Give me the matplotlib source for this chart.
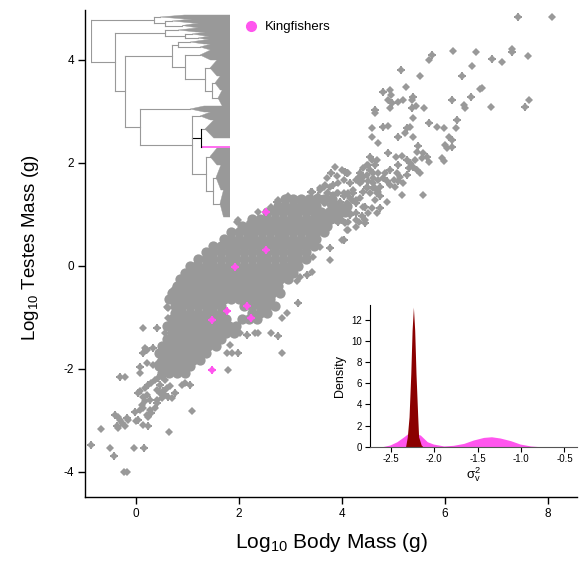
import matplotlib.pyplot as plt
from matplotlib.patches import Polygon
from matplotlib.lines import Line2D

plt.rcParams['font.family'] = ['Liberation Sans', 'DejaVu Sans']
plt.rcParams['mathtext.default'] = 'regular'
plt.rcParams['axes.unicode_minus'] = False

GREY = '#999999'
PINK = '#FF55EE'
DARK_RED = '#8B0000'

# ── Data ──────────────────────────────────────────────────────────────────────

# scattered species outside the dense core: (log10 body mass, log10 testes mass)
sparse_pts = [
    (7.42, 4.84), (8.07, 4.84), (7.30, 4.22), (7.30, 4.16), (7.60, 4.08), (7.10, 3.96),
    (6.91, 4.02), (6.60, 4.16), (6.16, 4.18), (5.74, 4.10), (5.69, 4.00), (6.52, 3.89),
    (6.32, 3.69), (6.71, 3.46), (6.68, 3.44), (5.15, 3.81), (5.51, 3.68), (5.24, 3.48),
    (4.80, 3.38), (4.93, 3.42), (4.95, 3.32), (5.38, 3.29), (5.35, 3.23), (4.90, 3.22),
    (4.97, 3.16), (5.09, 3.19), (5.19, 3.22), (4.64, 3.03), (4.64, 2.97), (4.93, 3.06),
    (5.35, 3.06), (5.43, 3.11), (5.60, 3.06), (6.13, 3.22), (6.36, 3.13), (6.38, 3.06),
    (6.50, 3.29), (6.89, 3.08), (7.62, 3.22), (7.55, 3.09),
    (4.58, 2.67), (4.58, 2.51), (4.80, 2.70), (4.90, 2.72), (4.69, 2.39), (5.26, 2.67),
    (5.32, 2.69), (5.37, 2.87), (5.09, 2.51), (5.22, 2.58), (5.38, 2.51), (5.69, 2.78),
    (5.84, 2.70), (5.97, 2.67), (6.23, 2.83), (6.21, 2.67), (6.08, 2.51), (6.13, 2.45),
    (6.00, 2.35), (6.03, 2.29), (6.13, 2.31), (5.94, 2.09), (5.97, 2.03), (5.48, 2.32),
    (5.45, 2.22), (5.58, 2.19), (5.64, 2.12), (5.68, 2.01), (5.55, 2.09), (4.90, 2.20),
    (5.05, 2.12), (5.16, 2.14), (4.54, 2.12), (4.58, 2.06), (4.67, 2.06), (5.26, 2.06),
    (5.32, 1.99), (5.42, 2.06), (5.38, 1.93), (5.45, 1.86), (5.51, 1.80), (5.29, 1.90),
    (5.58, 1.38), (5.16, 1.38),
    (5.09, 1.96), (5.06, 1.80), (5.00, 1.67), (5.09, 1.64), (5.03, 1.54), (4.93, 1.57),
    (4.87, 1.64), (4.80, 1.70), (4.83, 1.80), (4.93, 1.86), (5.13, 1.73), (5.19, 1.61),
    (5.26, 1.77), (4.87, 1.25), (4.70, 1.44), (4.74, 1.35), (4.64, 1.28), (4.67, 1.02),
    (4.74, 1.12),
    (4.51, 1.96), (4.41, 1.90), (4.54, 1.86), (4.61, 1.80), (4.48, 1.77), (4.35, 1.80),
    (4.28, 1.67), (4.38, 1.64), (4.51, 1.64), (4.61, 1.61), (4.70, 1.67), (4.74, 1.54),
    (4.64, 1.51), (4.48, 1.51), (4.41, 1.44), (4.54, 1.41),
    (3.86, 1.93), (3.79, 1.80), (3.90, 1.74), (4.00, 1.86), (4.09, 1.80), (4.03, 1.67),
    (3.93, 1.61), (3.83, 1.57), (3.77, 1.54), (3.70, 1.70), (4.16, 1.61), (4.22, 1.48),
    (4.12, 1.41), (4.03, 1.35), (3.93, 1.41), (3.83, 1.38),
    (3.41, 1.44), (3.57, 1.51), (3.67, 1.57), (3.54, 1.35), (3.70, 1.41), (3.83, 1.28),
    (3.96, 1.25), (4.09, 1.22), (4.19, 1.28), (4.28, 1.22), (4.35, 1.31), (4.41, 1.15),
    (4.28, 1.02), (4.16, 1.02), (4.03, 1.09), (3.90, 1.12), (3.77, 1.18), (3.64, 1.22),
    (3.51, 1.15), (3.38, 1.22), (3.44, 1.02), (3.61, 0.99), (3.73, 1.02), (3.86, 0.96),
    (3.99, 0.89), (4.12, 0.86), (4.28, 0.89), (4.38, 0.96), (4.51, 1.02), (4.58, 1.12),
    (3.77, 0.83), (3.64, 0.76), (3.51, 0.83), (3.38, 0.89), (4.09, 0.70), (3.99, 0.50),
    (3.77, 0.34), (3.57, 0.37), (3.44, 0.18), (3.18, 0.25), (3.05, 0.12), (2.93, -0.01),
    (3.35, 0.54), (3.18, 0.50), (4.28, 0.76), (4.45, 0.83), (2.96, 1.35), (3.15, 1.28),
    (4.06, 1.83), (4.12, 1.80), (4.48, 1.96), (4.64, 1.96), (4.70, 1.80), (4.61, 1.70),
    (4.41, 1.73), (4.32, 1.73), (4.35, 1.61), (4.48, 1.54), (4.61, 1.51), (4.67, 1.41),
    (3.39, 1.44), (3.57, 1.48), (3.64, 1.54), (3.73, 1.41), (3.90, 1.41), (4.03, 1.41),
    (4.22, 1.41), (4.16, 1.31), (4.28, 1.28), (4.45, 1.15), (4.45, 0.89), (4.32, 0.86),
    (4.16, 0.99), (4.06, 1.02), (3.96, 0.96), (3.86, 1.09), (3.67, 1.22), (3.54, 1.25),
    (3.31, 1.22), (3.18, 1.25), (2.76, 1.28), (2.60, 1.05), (2.76, 1.09), (2.86, 1.05),
    (3.05, 1.09), (3.18, 1.05), (3.35, 1.12), (3.51, 1.02), (3.67, 0.99), (3.80, 0.93),
    (3.93, 0.86), (4.06, 0.83), (4.12, 0.70), (4.03, 0.50), (3.77, 0.12), (3.41, -0.11),
    (3.31, -0.17), (3.18, -0.21), (3.12, -0.30), (3.15, -0.72), (2.93, -0.92), (2.83, -1.02),
    (-0.87, -3.48), (-0.67, -3.17), (-0.50, -3.53), (-0.43, -3.70), (-0.23, -4.01),
    (-0.18, -4.01), (-0.31, -2.15), (-0.21, -2.15), (-0.03, -3.53), (0.16, -3.53),
    (0.64, -3.22), (1.08, -2.81), (-0.41, -2.89), (-0.34, -2.94), (-0.31, -3.00),
    (-0.37, -3.12), (-0.34, -3.15), (-0.21, -3.12), (-0.18, -2.96), (-0.15, -3.00),
    (-0.28, -3.05), (-0.02, -2.83), (0.08, -2.80), (0.14, -2.76), (0.04, -2.99),
    (0.01, -3.02), (0.14, -3.09), (0.24, -3.12), (0.21, -2.89), (0.24, -2.94),
    (0.30, -2.86), (0.27, -2.80), (0.37, -2.76), (0.40, -2.67),
    (0.11, -2.70), (0.17, -2.63), (0.27, -2.60), (0.21, -2.50), (0.14, -2.54), (0.04, -2.47),
    (0.08, -2.44), (0.17, -2.37), (0.24, -2.31), (0.30, -2.28), (0.37, -2.21), (0.43, -2.18),
    (0.50, -2.15), (0.56, -2.21), (0.47, -2.31), (0.40, -2.41), (0.47, -2.47), (0.53, -2.44),
    (0.60, -2.37), (0.66, -2.34), (0.63, -2.54), (0.50, -2.57), (0.56, -2.50), (0.76, -2.47),
    (0.69, -2.57), (0.40, -2.60),
    (0.08, -1.96), (0.08, -2.08), (0.21, -1.89), (0.14, -1.70), (0.21, -1.63), (0.34, -1.92),
    (0.40, -1.92), (0.43, -1.89), (0.95, -2.28), (1.05, -2.31), (0.89, -2.31),
    (0.14, -1.21), (0.40, -1.21), (0.56, -1.31), (0.17, -1.60), (0.34, -1.60), (0.63, -0.82),
    (0.72, -0.47), (0.82, -0.37), (0.92, -0.30), (1.15, 0.02), (1.24, 0.12), (1.34, 0.15),
    (1.70, 0.47), (1.76, 0.41), (1.96, 0.86), (2.21, 0.86), (2.31, 0.80), (1.76, -1.70),
    (1.86, -1.70), (1.99, -1.70), (1.83, -1.53), (2.02, -1.31), (2.15, -1.34), (2.31, -1.31),
    (1.79, -2.02), (1.57, -1.40), (2.37, -1.31), (2.63, -1.31), (2.76, -1.37), (2.83, -1.70),
    (2.36, 1.05), (2.73, 1.25), (2.63, 1.15), (1.99, 0.89), (2.25, 0.83), (0.60, -0.79),
    (0.63, -1.02),
]

# dense core of the cloud, one row of body masses per testes-mass level
core_rows = [
    (1.30, [2.90, 3.05, 3.20, 3.35, 3.50, 3.65, 3.80]),
    (1.17, [2.75, 2.90, 3.05, 3.20, 3.35, 3.50, 3.80, 3.95, 4.10]),
    (1.04, [2.55, 2.70, 2.85, 3.00, 3.15, 3.30, 3.45, 3.60, 3.75, 3.90, 4.05]),
    (0.91, [2.25, 2.40, 2.55, 2.70, 2.85, 3.00, 3.15, 3.30, 3.45, 3.60, 3.75, 3.90]),
    (0.78, [2.05, 2.20, 2.35, 2.50, 2.65, 2.80, 2.95, 3.10, 3.25, 3.40, 3.55, 3.70]),
    (0.65, [1.85, 2.00, 2.15, 2.30, 2.45, 2.60, 2.75, 2.90, 3.05, 3.20, 3.35, 3.50, 3.65]),
    (0.52, [1.70, 1.85, 2.00, 2.15, 2.30, 2.45, 2.60, 2.75, 2.90, 3.05, 3.20, 3.35, 3.50]),
    (0.39, [1.50, 1.65, 1.80, 1.95, 2.10, 2.25, 2.40, 2.55, 2.70, 2.85, 3.00, 3.15, 3.30, 3.45]),
    (0.26, [1.35, 1.50, 1.65, 1.80, 1.95, 2.10, 2.25, 2.40, 2.55, 2.70, 2.85, 3.00, 3.15, 3.30]),
    (0.13, [1.20, 1.35, 1.50, 1.65, 1.80, 1.95, 2.10, 2.25, 2.40, 2.55, 2.70, 2.85, 3.00, 3.15, 3.30]),
    (0.00, [1.05, 1.20, 1.35, 1.50, 1.65, 1.80, 1.95, 2.10, 2.25, 2.40, 2.55, 2.70, 2.85, 3.00, 3.15]),
    (-0.13, [0.95, 1.10, 1.25, 1.40, 1.55, 1.70, 1.85, 2.00, 2.15, 2.30, 2.45, 2.60, 2.75, 2.90, 3.05]),
    (-0.26, [0.85, 1.00, 1.15, 1.30, 1.45, 1.60, 1.75, 1.90, 2.05, 2.20, 2.35, 2.50, 2.65, 2.80, 2.95]),
    (-0.39, [0.80, 0.95, 1.10, 1.25, 1.40, 1.55, 1.70, 1.85, 2.00, 2.15, 2.30, 2.45, 2.60, 2.75]),
    (-0.52, [0.70, 0.85, 1.00, 1.15, 1.30, 1.45, 1.60, 1.75, 1.90, 2.05, 2.20, 2.35, 2.50, 2.65, 2.80]),
    (-0.65, [0.65, 0.80, 0.95, 1.10, 1.25, 1.40, 1.55, 1.70, 1.85, 2.00, 2.15, 2.30, 2.45, 2.60]),
    (-0.78, [0.75, 0.90, 1.05, 1.20, 1.35, 1.50, 1.65, 2.10, 2.25, 2.40, 2.55, 2.70]),
    (-0.91, [0.75, 0.90, 1.05, 1.20, 1.35, 1.50, 1.65, 2.25, 2.40, 2.55]),
    (-1.04, [0.70, 0.85, 1.00, 1.15, 1.30, 1.45, 1.60, 1.75, 2.05, 2.20, 2.35]),
    (-1.17, [0.60, 0.75, 0.90, 1.05, 1.20, 1.35, 1.50, 1.65, 1.80, 1.95]),
    (-1.30, [0.70, 0.85, 1.00, 1.15, 1.30, 1.45, 1.60, 1.75, 1.90]),
    (-1.43, [0.60, 0.75, 0.90, 1.05, 1.20, 1.35, 1.50, 1.65]),
    (-1.56, [0.50, 0.65, 0.80, 0.95, 1.10, 1.25, 1.40, 1.55]),
    (-1.69, [0.45, 0.60, 0.75, 0.90, 1.05, 1.20, 1.35]),
    (-1.82, [0.50, 0.65, 0.80, 0.95, 1.10, 1.25]),
    (-1.95, [0.45, 0.60, 0.75, 0.90, 1.05]),
    (-2.08, [0.50, 0.65, 0.80, 0.95]),
]

kingfisher_body = [2.52, 2.52, 1.92, 2.16, 1.77, 2.23, 1.48, 1.48]
kingfisher_testes = [1.05, 0.31, -0.02, -0.78, -0.87, -1.01, -1.05, -2.02]

# inset densities of sigma^2_v
prior_x = [-2.60, -2.51, -2.43, -2.35, -2.30, -2.24, -2.16, -2.08, -2.01, -1.89, -1.78,
           -1.66, -1.55, -1.43, -1.34, -1.24, -1.12, -1.01, -0.89, -0.78]
prior_y = [0.00, 0.16, 0.47, 0.94, 1.26, 1.32, 1.10, 0.47, 0.25, 0.07, 0.13,
           0.31, 0.63, 0.88, 0.94, 0.82, 0.57, 0.25, 0.07, 0.00]
post_x = [-2.33, -2.31, -2.29, -2.27, -2.255, -2.24, -2.225, -2.21, -2.19, -2.18, -2.15, -2.13]
post_y = [0.00, 0.94, 2.83, 6.90, 11.0, 13.2, 11.0, 6.90, 2.83, 0.94, 0.16, 0.00]

# phylogeny: ('node', depth, children[, colour]) / ('clade', crown depth, first tip, last tip[, colour])
TIP_X = 230
TREE = ('node', 90.7, [
    ('node', 154, [
        ('clade', 160, 15, 19),
        ('node', 165, [('clade', 172, 19, 23), ('clade', 182, 23, 28)]),
    ]),
    ('node', 115, [
        ('node', 165, [
            ('clade', 178, 28, 32),
            ('node', 185, [('clade', 192, 32, 36), ('clade', 198, 36, 40)]),
        ]),
        ('node', 125, [
            ('node', 172, [
                ('node', 178, [('clade', 190, 40, 44), ('clade', 200, 44, 50)]),
                ('node', 185, [
                    ('clade', 200, 50, 60),
                    ('node', 205, [
                        ('clade', 210, 60, 76),
                        ('node', 212, [('clade', 215, 76, 90), ('clade', 218, 90, 106)]),
                    ]),
                ]),
            ]),
            ('node', 140, [
                ('clade', 190, 106, 112),
                ('node', 192, [
                    ('clade', 200, 112, 120),
                    ('node', 200.7, [('clade', 205, 120, 138), ('clade', 202, 145.5, 147.5, PINK)], 'black'),
                    ('node', 206, [
                        ('clade', 210, 148, 165),
                        ('node', 213, [('clade', 216, 165, 190), ('clade', 220, 190, 217)]),
                    ]),
                ]),
            ]),
        ]),
    ]),
])


# ── Helpers ───────────────────────────────────────────────────────────────────

def draw_tree(ax, node, parent_x=None):
    """Draw a rectangular cladogram, returns the y of the node."""
    if node[0] == 'clade':
        crown, y0, y1 = node[1:4]
        col = node[4] if len(node) > 4 else GREY
        ym = (y0 + y1) / 2
        if parent_x is not None:
            ax.plot([parent_x, crown], [ym, ym], color=col, lw=0.8)
        if y1 - y0 < 4:
            ax.plot([crown, TIP_X], [ym, ym], color=col, lw=1.2)
        else:
            mid = crown + (TIP_X - crown) * 0.35
            ax.add_patch(Polygon([(crown, ym), (mid, y0), (TIP_X, y0), (TIP_X, y1), (mid, y1)],
                                 closed=True, fc=col, ec=col, lw=0.3))
        return ym
    x, children = node[1], node[2]
    col = node[3] if len(node) > 3 else GREY
    ys = [draw_tree(ax, c, x) for c in children]
    ax.plot([x, x], [min(ys), max(ys)], color=col, lw=0.8)
    ym = (ys[0] + ys[-1]) / 2
    if parent_x is not None:
        ax.plot([parent_x, x], [ym, ym], color=col, lw=0.8)
    return ym


# ── Figure ────────────────────────────────────────────────────────────────────

fig = plt.figure(figsize=(5.86, 5.61), dpi=100)
ax = fig.add_axes([0.145, 0.1141, 0.8396, 0.868])

sx = [p[0] for p in sparse_pts]
sy = [p[1] for p in sparse_pts]
cx, cy = [], []
for yv, xs in core_rows:
    cx += xs
    cy += [yv] * len(xs)

ax.plot(cx, cy, 'o', color=GREY, ms=7.4, mew=0, zorder=2)
ax.plot(sx, sy, 'D', color=GREY, ms=4.4, mew=0, zorder=2)
ax.plot(sx[::3], sy[::3], 'P', color=GREY, ms=5.8, mew=0, zorder=2)
ax.plot(kingfisher_body, kingfisher_testes, 'D', color=PINK, ms=4.2, mew=0, zorder=3)
ax.plot(kingfisher_body, kingfisher_testes, 'P', color=PINK, ms=5.8, mew=0, zorder=3)

ax.set_xlim(-0.99, 8.56)
ax.set_ylim(-4.49, 4.97)
ax.set_xticks([0, 2, 4, 6, 8])
ax.set_yticks([-4, -2, 0, 2, 4])
for s in ['top', 'right']:
    ax.spines[s].set_visible(False)
for s in ['left', 'bottom']:
    ax.spines[s].set_linewidth(1.0)
ax.tick_params(direction='out', length=5, width=1, labelsize=8.5, pad=3)
ax.set_xlabel('Log$_{10}$ Body Mass (g)', fontsize=15, labelpad=8)
ax.set_ylabel('Log$_{10}$ Testes Mass (g)', fontsize=13.5)
ax.yaxis.set_label_coords(-0.089, 0.513)

ax.legend(handles=[Line2D([], [], marker='o', ls='', color=PINK, ms=7, label='Kingfishers')],
          loc='center left', bbox_to_anchor=(0.325, 0.965), frameon=False,
          handlelength=1.0, handletextpad=0.5, borderaxespad=0, borderpad=0, fontsize=9.5)

# phylogeny inset
ax_t = fig.add_axes([90.7 / 586, 1 - 218 / 561, (TIP_X - 90.7) / 586, 204 / 561])
draw_tree(ax_t, TREE)
ax_t.set_xlim(90.7, TIP_X)
ax_t.set_ylim(218, 14)
ax_t.axis('off')

# density inset
ax_d = fig.add_axes([370 / 586, 1 - 446.7 / 561, 207 / 586, 141.7 / 561])
ax_d.fill_between(prior_x, prior_y, color=PINK, lw=0)
ax_d.fill_between(post_x, post_y, color=DARK_RED, lw=0)
ax_d.set_xlim(-2.74, -0.355)
ax_d.set_ylim(0, 13.4)
ax_d.set_xticks([-2.5, -2.0, -1.5, -1.0, -0.5])
ax_d.set_xticklabels(['-2.5', '-2.0', '-1.5', '-1.0', '-0.5'])
ax_d.set_yticks([0, 2, 4, 6, 8, 10, 12])
ax_d.patch.set_alpha(0)
for s in ['top', 'right']:
    ax_d.spines[s].set_visible(False)
ax_d.spines['bottom'].set_color('#555555')
ax_d.tick_params(direction='out', length=3.5, width=0.8, labelsize=7, pad=2)
ax_d.set_xlabel(r'$\sigma^2_v$', fontsize=9.5, labelpad=1)
ax_d.set_ylabel('Density', fontsize=9, labelpad=4)

fig.savefig('out.png', dpi=100)
